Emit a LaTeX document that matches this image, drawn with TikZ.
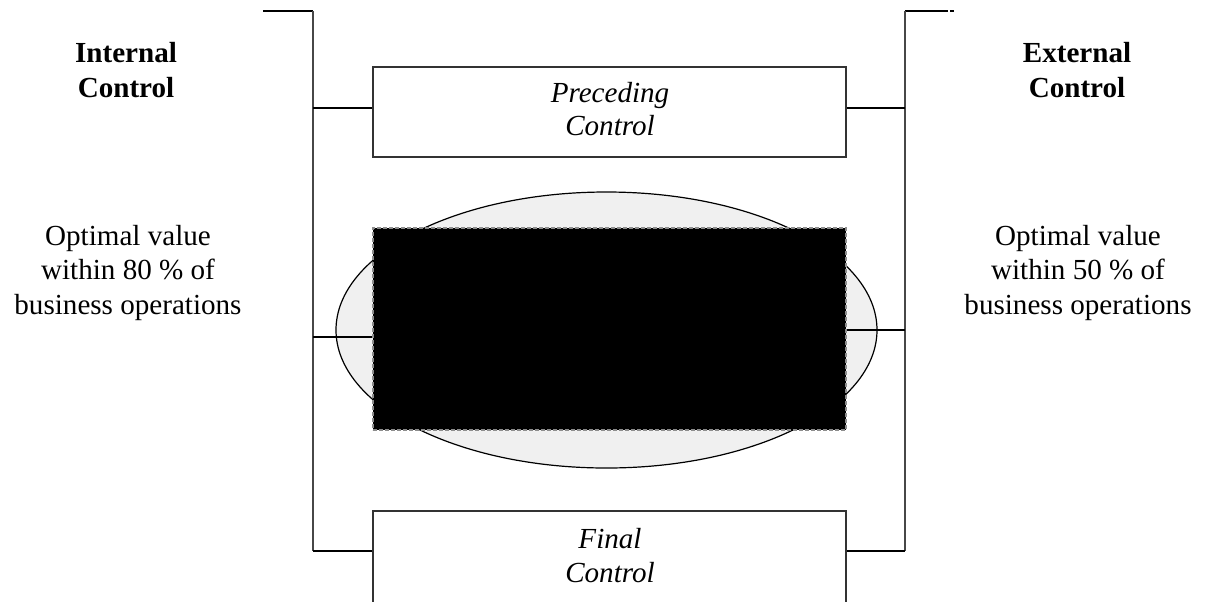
\documentclass[tikz,border=0pt]{standalone}
\usepackage{fontspec}
\setmainfont{Liberation Serif}
\usetikzlibrary{shapes.geometric}
\begin{document}
\begin{tikzpicture}[x=0.5pt,y=-0.5pt,
  txt/.style={align=center, anchor=base, inner sep=0pt, font=\fontsize{14.55}{17.25}\selectfont},
  head/.style={txt, font=\fontsize{14.55}{17.5}\selectfont\bfseries},
  ctlbox/.style={rectangle, draw=black!80, line width=0.75pt, fill=white, minimum width=236.5pt, inner sep=0pt},
  bus/.style={draw=black!72, line width=0.9pt},
  link/.style={draw=black, line width=0.75pt},
  core/.style={ellipse, draw=black, line width=0.6pt, fill=black!6, minimum width=270.5pt, minimum height=138pt, inner sep=0pt},
  hidden/.style={rectangle, fill=black, draw=black!45, dash pattern=on 2pt off 1pt, line width=0.6pt, minimum width=236.5pt, minimum height=101pt, inner sep=0pt}]
\path[use as bounding box, clip] (0,0) rectangle (1205,601);
\fill[white] (0,0) rectangle (1205,601);
% bus end points
\coordinate (LTL) at (263,11);
\coordinate (LT) at (313,11);
\coordinate (LB) at (313,551);
\coordinate (RT) at (905,11);
\coordinate (RTR) at (948,11);
\coordinate (RTA) at (950,11);
\coordinate (RTB) at (954,11);
\coordinate (RB) at (905,551);
\coordinate (yp) at (0,108);
\coordinate (yl) at (0,337);
\coordinate (yr) at (0,330);
% ellipse and boxes
\node[core] (ell) at (606.5,330) {};
\node[hidden] (mid) at (609.5,329) {};
\node[ctlbox, minimum height=45pt] (pre) at (609.5,112) {};
\node[ctlbox, minimum height=46pt] (fin) at (609.5,557) {};
% buses
\draw[link] (LTL) -- (LT);
\draw[bus] (LT) -- (LB);
\draw[link] (RT) -- (RTR);
\draw[link] (RTA) -- (RTB);
\draw[bus] (RT) -- (RB);
% connectors
\draw[link] (LT |- yp) -- (pre.west |- yp);
\draw[link] (pre.east |- yp) -- (RT |- yp);
\draw[link] (LT |- yl) -- (mid.west |- yl);
\draw[link] (mid.east |- yr) -- (RT |- yr);
\draw[link] (LB) -- (fin.west |- LB);
\draw[link] (fin.east |- RB) -- (RB);
% texts (base anchor = baseline of the last line)
\node[head] (ic) at (126,97) {Internal\\Control};
\node[head] (ec) at (1077,97) {External\\Control};
\node[txt] (lo) at (128,314) {Optimal value\\within 80 \% of\\business operations};
\node[txt] (ro) at (1078,314) {Optimal value\\within 50 \% of\\business operations};
\node[txt, font=\fontsize{14.55}{16.5}\selectfont\itshape] (pret) at (610,135) {Preceding\\Control};
\node[txt, font=\fontsize{14.55}{17}\selectfont\itshape] (fint) at (610,582) {Final\\Control};
\end{tikzpicture}
\end{document}
